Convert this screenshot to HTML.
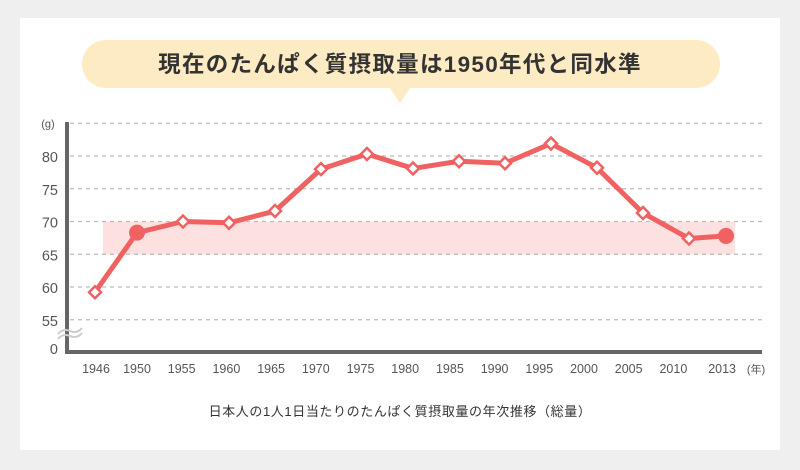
<!DOCTYPE html>
<html><head><meta charset="utf-8"><style>
body{margin:0;background:#efefef;width:800px;height:470px;overflow:hidden;font-family:"Liberation Sans","Noto Sans CJK JP",sans-serif}
#card{position:absolute;left:20px;top:18px;width:760px;height:432px;background:#fff}
</style></head><body>
<div id="card"></div>
<svg id="chart" width="800" height="470" style="position:absolute;left:0;top:0">
<path d="M106,40 H696 A24,24 0 0 1 696,88 H410 L400,103 L390,88 H106 A24,24 0 0 1 106,40 Z" fill="#fdebc3"/>
<text x="400" y="72" text-anchor="middle" font-size="22.5" font-weight="bold" letter-spacing="1.3" fill="#333">現在のたんぱく質摂取量は1950年代と同水準</text>
<text x="400" y="416" text-anchor="middle" font-size="13" letter-spacing="0.6" fill="#333">日本人の1人1日当たりのたんぱく質摂取量の年次推移（総量）</text>
<g id="g"></g>
</svg>
<script>
const categories=["1946","1950","1955","1960","1965","1970","1975","1980","1985","1990","1995","2000","2005","2010","2013"];
const values=[59.2,68.3,70.0,69.8,71.6,78.0,80.3,78.1,79.2,78.9,81.9,78.2,71.3,67.4,67.8];
const yTicks=[55,60,65,70,75,80,85];
const yTickLabels=["55","60","65","70","75","80","(g)"];
const bandRange=[65,70];
const highlight=[1,14];
const NS="http://www.w3.org/2000/svg";
const g=document.getElementById('g');
function y(v){return 156+(80-v)*6.55;}
function lx(i){return 96+(i===0?0:41+(i-1)*44.7)+(i===categories.length-1?4:0);}
function px(i){return i===0?95:(i===categories.length-1?726:137+(i-1)*46);}
function mk(t,a){const e=document.createElementNS(NS,t);for(const k in a)e.setAttribute(k,a[k]);g.appendChild(e);return e;}
let e=mk('rect',{x:103,y:y(bandRange[1]),width:632,height:y(bandRange[0])-y(bandRange[1]),fill:'#fde0e0'});


yTicks.forEach((t,k)=>{
 let l=mk('line',{x1:70,x2:762,y1:y(t),y2:y(t),stroke:'#bbb','stroke-width':1.3,'stroke-dasharray':'4,4'});
 
 
 let tx=mk('text',{x:t===85?48:58,y:y(t)+(t===85?4:6),'text-anchor':t===85?'middle':'end','font-size':t===85?11:14.5,fill:'#555'});
 tx.textContent=yTickLabels[k];
 
 
});
let z=mk('text',{x:58,y:354,'text-anchor':'end','font-size':14.5,fill:'#555'});z.textContent='0';


let ax=mk('path',{d:'M67,122 V352 H762',fill:'none',stroke:'#666','stroke-width':4});


let br=mk('path',{d:'M58,334 q5,-6 12,-3 t12,-3 M58,339 q5,-6 12,-3 t12,-3',fill:'none',stroke:'#ccc','stroke-width':2});


categories.forEach((c,i)=>{
 let t=mk('text',{x:lx(i),y:373,'text-anchor':'middle','font-size':12.5,fill:'#555'});t.textContent=c;
 
 
});
let u=mk('text',{x:756,y:373,'text-anchor':'middle','font-size':11,fill:'#555'});u.textContent='(年)';


let line=mk('polyline',{points:values.map((v,i)=>px(i)+','+y(v)).join(' '),fill:'none',stroke:'#f06262','stroke-width':5,'stroke-linejoin':'round'});


values.forEach((v,i)=>{
 const cx=px(i),cy=y(v);let m;
 if(highlight.includes(i)){m=mk('circle',{cx:cx,cy:cy,r:8,fill:'#f06262'});}
 else{m=mk('path',{d:`M${cx},${cy-6} L${cx+6},${cy} L${cx},${cy+6} L${cx-6},${cy} Z`,fill:'#fff',stroke:'#f06262','stroke-width':2.5});}
 
 
});
</script>
</body></html>
